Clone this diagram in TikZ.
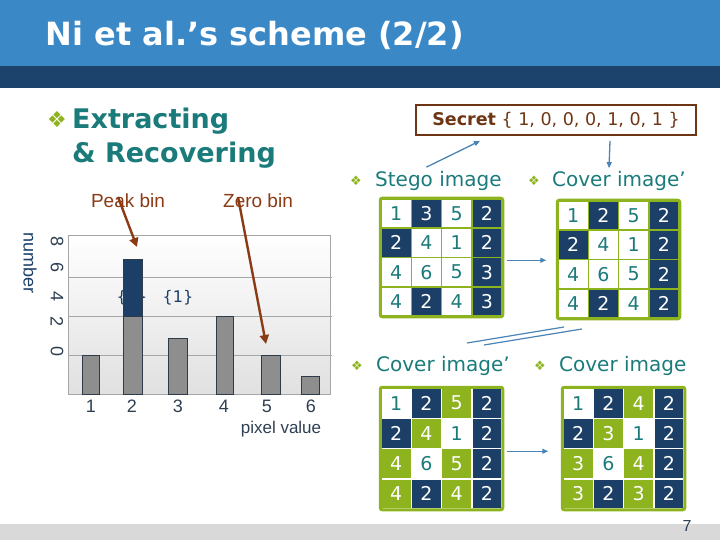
\documentclass[tikz,border=0pt]{standalone}
\usepackage{fontspec}
\setmainfont{DejaVu Sans}
\newfontfamily\titlefont{DejaVu Sans}
\newfontfamily\chartfont{Liberation Sans}
\usetikzlibrary{arrows.meta}

\definecolor{headblue}{HTML}{3A89C6}
\definecolor{headdark}{HTML}{1B436B}
\definecolor{footgray}{HTML}{D9D9D9}
\definecolor{tealx}{HTML}{1B7B7B}
\definecolor{navy}{HTML}{1B3F66}
\definecolor{greenx}{HTML}{8DB31E}
\definecolor{brownx}{HTML}{8A3A14}
\definecolor{secbrown}{HTML}{6E3515}
\definecolor{arrblue}{HTML}{4A83B5}
\definecolor{bargray}{HTML}{8E8E8E}
\definecolor{barline}{HTML}{2E3B4A}
\definecolor{axtext}{HTML}{2F3F52}
\colorlet{fw}{white}\colorlet{fd}{navy}\colorlet{fg}{greenx}
\colorlet{tw}{tealx}\colorlet{td}{white}\colorlet{tg}{white}

\newcommand{\fsz}[1]{\fontsize{#1}{#1}\selectfont}

\tikzset{
  bul/.style={text=greenx,inner sep=0},
  head/.style={anchor=west,text=tealx,inner sep=0,font=\fsz{20}},
  chartlbl/.style={text=axtext,inner sep=0,font=\chartfont\fsz{18}},
  brlbl/.style={text=brownx,inner sep=0,font=\chartfont\fsz{19}},
  brarrow/.style={draw=brownx,line width=2.4pt,-{Triangle[length=9pt,width=9pt]}},
  bluearrow/.style={draw=arrblue,line width=1.3pt,-{Triangle[length=6pt,width=5pt]}},
  gridln/.style={draw=black!35,line width=0.8pt},
  bar/.style={fill=bargray,draw=barline,line width=0.8pt},
  cell/.style={minimum width=30.25pt,inner sep=0,line width=1.5pt,font=\fsz{19}},
  frame/.style={draw=greenx,line width=3pt,rounded corners=2pt},
}

% #1 name, #2 left, #3 top, #4 row height, #5 separator colour, #6 cells
\newcommand{\pixgrid}[6]{%
  \foreach \v/\s [count=\k from 0] in {#6} {
    \pgfmathtruncatemacro\row{\k/4}
    \pgfmathtruncatemacro\col{mod(\k,4)}
    \node[cell,draw=#5,fill=f\s,text=t\s,minimum height=#4pt] (#1-\k)
      at ({#2+15.125+\col*30.25},{#3+#4/2+\row*#4}) {\v};
  }
  \draw[frame] (#1-0.north west) rectangle (#1-15.south east);
}

\begin{document}
\begin{tikzpicture}[x=1pt,y=-1pt]
\useasboundingbox (0,0) rectangle (720,540);
% header and footer bands
\fill[headblue] (0,0) rectangle (720,66);
\fill[headdark] (0,66) rectangle (720,88);
\fill[footgray] (0,524) rectangle (720,540);
\node[anchor=base west,text=white,font=\titlefont\bfseries\fsz{32}] (title) at (42,46) {Ni et al.’s scheme (2/2)};

% heading
\node[bul,font=\fsz{22}] (b0) at (57,120) {❖};
\node[anchor=base west,text=tealx,inner sep=0,font=\bfseries\fsz{27}] (ext) at (72,129) {Extracting};
\node[anchor=base west,text=tealx,inner sep=0,font=\bfseries\fsz{27}] (rec) at (72,163) {\& Recovering};

% histogram
\shade[top color=white,bottom color=black!12] (68,235) rectangle (330,394);
\foreach \g in {277,316,355} \draw[gridln] (68,\g) -- (332,\g);
\draw[gridln] (68,235) rectangle (330,394);
\node[text=navy,inner sep=0,font=\fsz{16}] (set0) at (132,298) {\{0\}};
\foreach \a/\b/\t in {82/99/355,123/142/316,168/187/338,216/233/316,261/280/355,301/319/376}
  \draw[bar] (\a,394) rectangle (\b,\t);
\draw[bar,fill=navy] (123,316) rectangle (142,259);
\node[text=navy,inner sep=0,font=\fsz{16}] (set1) at (178,298) {\{1\}};

\node[chartlbl,rotate=-90] (y8) at (57,242) {8};
\node[chartlbl,rotate=-90] (y6) at (57,268) {6};
\node[chartlbl,rotate=-90] (y4) at (57,297) {4};
\node[chartlbl,rotate=-90] (y2) at (57,322) {2};
\node[chartlbl,rotate=-90] (y0) at (57,352) {0};
\node[chartlbl,rotate=-90,text=navy] (ylab) at (30,263) {number};
\node[chartlbl] (x1) at (91,406) {1};
\node[chartlbl] (x2) at (132,406) {2};
\node[chartlbl] (x3) at (178,406) {3};
\node[chartlbl] (x4) at (224,406) {4};
\node[chartlbl] (x5) at (267,406) {5};
\node[chartlbl] (x6) at (311,406) {6};
\node[chartlbl,font=\chartfont\fsz{17}] (xlab) at (281,429) {pixel value};

\node[brlbl] (peak) at (128,201) {Peak bin};
\node[brlbl] (zero) at (258,201) {Zero bin};
\coordinate (pk-tip) at (137,247);
\coordinate (zr-tip) at (266,344);
\draw[brarrow] ([xshift=-10pt,yshift=4pt]peak.center) -- (pk-tip);
\draw[brarrow] ([xshift=-20pt,yshift=4pt]zero.center) -- (zr-tip);

% secret
\node[draw=secbrown,line width=1.8pt,text=secbrown,minimum width=280pt,minimum height=30pt,
  inner sep=0,font=\fsz{17.5}] (secret) at (556,120) {\textbf{Secret} \{ 1, 0, 0, 0, 1, 0, 1 \}};

% upper grids
\node[bul,font=\fsz{13}] (b1) at (356,181) {❖};
\node[head] (stego) at (375,181) {Stego image};
\node[bul,font=\fsz{13}] (b2) at (534,181) {❖};
\node[head] (cov1) at (552,181) {Cover image’};
\pixgrid{g1}{381}{199}{29.25}{greenx}{1/w,3/d,5/w,2/d, 2/d,4/w,1/w,2/d, 4/w,6/w,5/w,3/d, 4/w,2/d,4/w,3/d}
\pixgrid{g2}{558}{201}{29.25}{greenx}{1/w,2/d,5/w,2/d, 2/d,4/w,1/w,2/d, 4/w,6/w,5/w,2/d, 4/w,2/d,4/w,2/d}
\draw[bluearrow] ([xshift=-12pt,yshift=4pt]stego.north) -- ([xshift=-76pt,yshift=-5pt]secret.south);
\draw[bluearrow] ([xshift=54pt,yshift=-5pt]secret.south) -- ([xshift=57pt,yshift=3pt]cov1.north west);
\draw[bluearrow] ([xshift=4pt,yshift=-2pt]g1-7.south east) -- ([xshift=-11pt]g2-4.south west);

% stray double line
\draw[arrblue,line width=1.2pt] (467,343) -- (564,327);
\draw[arrblue,line width=1.2pt] (484,345) -- (582,329);

% lower grids
\node[bul,font=\fsz{13}] (b3) at (357,366) {❖};
\node[head] (cov2) at (376,366) {Cover image’};
\node[bul,font=\fsz{13}] (b4) at (540,366) {❖};
\node[head] (cov3) at (559,366) {Cover image};
\pixgrid{g3}{381}{388}{30.25}{white}{1/w,2/d,5/g,2/d, 2/d,4/g,1/w,2/d, 4/g,6/w,5/g,2/d, 4/g,2/d,4/g,2/d}
\pixgrid{g4}{563}{388}{30.25}{white}{1/w,2/d,4/g,2/d, 2/d,3/g,1/w,2/d, 3/g,6/w,4/g,2/d, 3/g,2/d,3/g,2/d}
\draw[bluearrow] ([xshift=4pt,yshift=-2pt]g3-7.south east) -- ([xshift=-14pt,yshift=-2pt]g4-4.south west);

\node[chartlbl,font=\chartfont\fsz{16}] (page) at (687,526) {7};
\end{tikzpicture}
\end{document}
